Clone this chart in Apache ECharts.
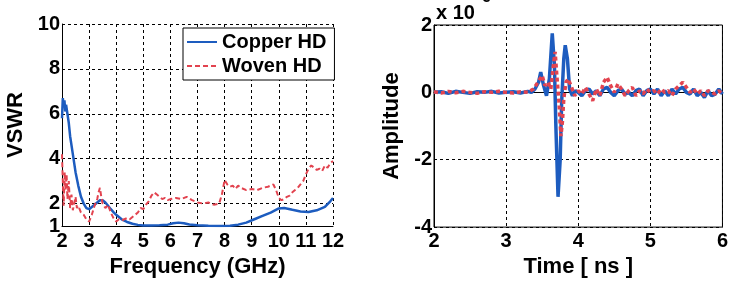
<!DOCTYPE html>
<html>
<head>
<meta charset="utf-8">
<script src="https://cdn.jsdelivr.net/npm/echarts@6/dist/echarts.min.js"></script>
<style>
  html, body { margin: 0; padding: 0; background: #fff; }
  #main { width: 731px; height: 283px; }
</style>
</head>
<body>
<div id="main"></div>
<script>
// left plot: VSWR vs frequency (GHz)
var freqTicks = [2, 3, 4, 5, 6, 7, 8, 9, 10, 11, 12];
var vswrTicks = [1, 2, 4, 6, 8, 10];

var copperVswr = [
  [2.0, 5.8], [2.03, 6.7], [2.06, 6.3], [2.09, 6.6], [2.12, 6.1], [2.15, 6.4], [2.2, 6.0],
  [2.25, 5.6], [2.3, 5.0], [2.4, 4.2], [2.5, 3.4], [2.6, 2.8], [2.7, 2.3], [2.8, 2.0],
  [2.9, 1.8], [3.0, 1.75], [3.1, 1.85], [3.2, 1.95], [3.3, 2.05], [3.4, 2.15], [3.5, 2.15],
  [3.6, 2.05], [3.7, 1.9], [3.8, 1.75], [3.9, 1.62], [4.0, 1.5], [4.2, 1.3], [4.4, 1.18],
  [4.6, 1.1], [4.8, 1.05], [5.0, 1.02], [5.3, 1.02], [5.6, 1.03], [5.9, 1.06], [6.1, 1.12],
  [6.3, 1.15], [6.5, 1.12], [6.7, 1.07], [7.0, 1.03], [7.4, 1.01], [7.8, 1.0], [8.2, 1.01],
  [8.5, 1.06], [8.8, 1.15], [9.1, 1.3], [9.4, 1.45], [9.7, 1.6], [10.0, 1.78], [10.2, 1.8],
  [10.5, 1.72], [10.8, 1.65], [11.1, 1.62], [11.4, 1.7], [11.7, 1.85], [11.9, 2.1], [12.0, 2.25]
];

var wovenVswr = [
  [2.0, 4.2], [2.03, 3.0], [2.06, 1.9], [2.1, 3.4], [2.13, 2.6], [2.17, 3.3], [2.2, 2.2],
  [2.25, 3.0], [2.3, 1.8], [2.35, 2.4], [2.4, 1.7], [2.45, 2.0], [2.5, 2.3], [2.55, 1.8],
  [2.6, 1.9], [2.7, 1.6], [2.8, 1.5], [2.9, 1.3], [3.0, 1.2], [3.1, 1.5], [3.2, 1.9],
  [3.3, 2.2], [3.35, 2.5], [3.4, 2.7], [3.45, 2.3], [3.5, 2.0], [3.6, 1.8], [3.7, 1.95],
  [3.8, 1.6], [3.9, 1.35], [4.0, 1.2], [4.1, 1.3], [4.2, 1.25], [4.3, 1.3], [4.4, 1.35],
  [4.5, 1.3], [4.6, 1.4], [4.7, 1.5], [4.8, 1.6], [4.9, 1.8], [5.0, 1.75], [5.1, 1.95],
  [5.2, 2.1], [5.3, 2.35], [5.4, 2.5], [5.5, 2.4], [5.6, 2.3], [5.7, 2.2], [5.8, 2.25],
  [5.9, 2.15], [6.0, 2.2], [6.2, 2.25], [6.4, 2.2], [6.6, 2.3], [6.8, 2.15], [7.0, 2.05],
  [7.2, 2.0], [7.4, 2.05], [7.6, 1.95], [7.8, 2.0], [7.9, 2.4], [8.0, 3.05], [8.1, 2.85],
  [8.2, 2.75], [8.3, 2.8], [8.4, 2.65], [8.5, 2.8], [8.6, 2.7], [8.8, 2.6], [9.0, 2.65],
  [9.2, 2.6], [9.4, 2.7], [9.6, 2.75], [9.8, 2.85], [9.9, 2.6], [10.0, 2.25], [10.1, 2.15],
  [10.2, 2.2], [10.3, 2.3], [10.4, 2.35], [10.5, 2.5], [10.6, 2.6], [10.7, 2.7], [10.8, 2.85],
  [10.9, 3.0], [11.0, 3.3], [11.1, 3.55], [11.2, 3.7], [11.3, 3.6], [11.4, 3.5], [11.5, 3.55],
  [11.6, 3.45], [11.7, 3.7], [11.8, 3.6], [11.9, 3.8], [12.0, 3.9]
];

// right plot: amplitude (x 10^-3) vs time (ns)
var timeTicks = [2, 3, 4, 5, 6];
var ampTicks = [-4, -2, 0, 2];

var copperAmp = [
  [2.0, 0], [2.1, 0.02], [2.2, -0.03], [2.3, 0.03], [2.4, 0.0], [2.5, -0.03], [2.6, 0.02],
  [2.7, 0.0], [2.8, 0.03], [2.9, -0.02], [3.0, 0.0], [3.1, 0.02], [3.2, -0.02], [3.3, 0.03],
  [3.35, 0.0], [3.4, 0.1], [3.45, 0.3], [3.48, 0.6], [3.52, 0.2], [3.56, -0.1], [3.6, 0.4],
  [3.64, 1.75], [3.67, 0.8], [3.69, -1.0], [3.72, -3.1], [3.75, -2.0], [3.77, -0.3],
  [3.8, 1.0], [3.82, 1.4], [3.85, 1.0], [3.88, 0.1], [3.92, -0.1], [3.96, 0.05], [4.0, 0.0],
  [4.05, -0.1], [4.1, 0.05], [4.15, 0.1], [4.2, -0.05], [4.25, 0.05], [4.3, -0.1], [4.35, 0.1],
  [4.4, 0.15], [4.45, 0.0], [4.5, -0.1], [4.55, 0.05], [4.6, 0.1], [4.65, -0.05], [4.7, 0.0],
  [4.75, -0.1], [4.8, 0.05], [4.85, 0.1], [4.9, -0.1], [4.95, 0.05], [5.0, 0.1], [5.05, -0.05],
  [5.1, 0.1], [5.15, -0.1], [5.2, 0.05], [5.25, -0.1], [5.3, 0.1], [5.35, -0.05], [5.4, 0.1],
  [5.45, 0.15], [5.5, 0.0], [5.55, -0.05], [5.6, 0.1], [5.65, -0.1], [5.7, 0.0], [5.75, -0.15],
  [5.8, 0.05], [5.85, -0.1], [5.9, -0.05], [5.95, 0.1], [6.0, -0.05]
];

var wovenAmp = [
  [2.0, 0.02], [2.1, -0.02], [2.2, 0.03], [2.3, -0.01], [2.4, 0.03], [2.5, 0.0], [2.6, -0.03],
  [2.7, 0.02], [2.8, 0.0], [2.9, 0.03], [3.0, 0.0], [3.1, -0.02], [3.2, 0.02], [3.3, 0.0],
  [3.38, 0.1], [3.44, 0.3], [3.5, 0.5], [3.54, 0.2], [3.58, 0.3], [3.62, 0.1], [3.66, 0.9],
  [3.68, 1.2], [3.7, 0.6], [3.73, -0.2], [3.76, -1.3], [3.78, -0.9], [3.8, -0.2], [3.83, 0.3],
  [3.86, 0.4], [3.9, 0.2], [3.95, -0.1], [4.0, 0.05], [4.05, -0.05], [4.1, 0.15], [4.15, -0.05],
  [4.2, -0.25], [4.25, 0.1], [4.3, -0.1], [4.35, 0.3], [4.4, 0.45], [4.45, 0.2], [4.5, 0.0],
  [4.55, 0.25], [4.6, 0.1], [4.65, -0.1], [4.7, 0.05], [4.75, 0.15], [4.8, -0.1], [4.85, 0.05],
  [4.9, -0.05], [4.95, 0.1], [5.0, 0.0], [5.05, 0.05], [5.1, -0.05], [5.15, 0.1], [5.2, 0.0],
  [5.25, 0.05], [5.3, -0.1], [5.35, 0.1], [5.4, 0.2], [5.45, 0.3], [5.5, 0.15], [5.55, 0.0],
  [5.6, 0.1], [5.65, -0.05], [5.7, 0.05], [5.75, -0.1], [5.8, 0.05], [5.85, 0.0], [5.9, -0.05],
  [5.95, 0.05], [6.0, -0.05]
];

var BLUE = '#1d5cbf';
var RED = '#e2434f';
var FONT = 'Liberation Sans';

var chart = echarts.init(document.getElementById('main'));

var gridLine = { show: true, lineStyle: { color: '#000', width: 1, type: [3, 3] } };
var axisLine = { show: true, lineStyle: { color: '#000', width: 1 } };
var tickText = { color: '#000', fontFamily: FONT, fontWeight: 'bold', fontSize: 20 };
var nameText = { color: '#000', fontFamily: FONT, fontWeight: 'bold', fontSize: 22 };

var option = {
  animation: false,
  backgroundColor: '#fff',
  grid: [
    { left: 62, top: 24, width: 271, height: 202 },
    { left: 434, top: 25, width: 292, height: 204, show: true, borderColor: '#000', borderWidth: 1 }
  ],
  legend: {
    data: ['Copper HD', 'Woven HD'],
    orient: 'vertical',
    left: 183,
    top: 28,
    padding: [4, 8, 4, 3],
    itemGap: 4,
    itemWidth: 30,
    itemHeight: 14,
    borderColor: '#000',
    borderWidth: 1,
    backgroundColor: '#fff',
    itemStyle: { opacity: 0 },
    textStyle: { color: '#000', fontFamily: FONT, fontWeight: 'bold', fontSize: 20 }
  },
  xAxis: [
    {
      gridIndex: 0, type: 'value', min: 2, max: 12, interval: 1,
      name: 'Frequency (GHz)', nameLocation: 'middle', nameGap: 27, nameTextStyle: nameText,
      axisLine: axisLine, axisTick: { show: false },
      axisLabel: Object.assign({ margin: 5, customValues: freqTicks }, tickText),
      splitLine: gridLine
    },
    {
      gridIndex: 1, type: 'value', min: 2, max: 6, interval: 1,
      name: 'Time [ ns ]', nameLocation: 'middle', nameGap: 25, nameTextStyle: nameText,
      axisLine: axisLine, axisTick: { show: false },
      axisLabel: Object.assign({ margin: 4, customValues: timeTicks }, tickText),
      splitLine: gridLine
    }
  ],
  yAxis: [
    {
      gridIndex: 0, type: 'value', min: 1, max: 10,
      name: 'VSWR', nameLocation: 'middle', nameGap: 35, nameTextStyle: nameText,
      axisLine: axisLine,
      axisTick: { show: false, customValues: vswrTicks },
      axisLabel: Object.assign({ margin: 2, customValues: vswrTicks }, tickText),
      splitLine: gridLine
    },
    {
      gridIndex: 1, type: 'value', min: -4, max: 2, interval: 2,
      name: 'Amplitude', nameLocation: 'middle', nameGap: 31, nameTextStyle: nameText,
      axisLine: axisLine, axisTick: { show: false },
      axisLabel: Object.assign({ margin: 2, customValues: ampTicks }, tickText),
      splitLine: gridLine
    }
  ],
  graphic: [
    { type: 'text', left: 436, top: 3, style: { text: 'x 10', fill: '#000', font: 'bold 20px "Liberation Sans"' } },
    { type: 'text', left: 478, top: -9, style: { text: '-3', fill: '#000', font: 'bold 14px "Liberation Sans"' } }
  ],
  series: [
    {
      name: 'Copper HD', type: 'line', xAxisIndex: 0, yAxisIndex: 0, data: copperVswr,
      symbol: 'none', lineStyle: { color: BLUE, width: 2.5 }, itemStyle: { color: BLUE }
    },
    {
      name: 'Woven HD', type: 'line', xAxisIndex: 0, yAxisIndex: 0, data: wovenVswr,
      symbol: 'none', lineStyle: { color: RED, width: 2, type: [5, 3] }, itemStyle: { color: RED }
    },
    {
      name: 'Copper HD', type: 'line', xAxisIndex: 1, yAxisIndex: 1, data: copperAmp,
      symbol: 'none', lineStyle: { color: BLUE, width: 3.5 }, itemStyle: { color: BLUE }
    },
    {
      name: 'Woven HD', type: 'line', xAxisIndex: 1, yAxisIndex: 1, data: wovenAmp,
      symbol: 'none', lineStyle: { color: RED, width: 3.5, type: [4, 3] }, itemStyle: { color: RED }
    }
  ]
};

chart.setOption(option);
</script>
</body>
</html>
